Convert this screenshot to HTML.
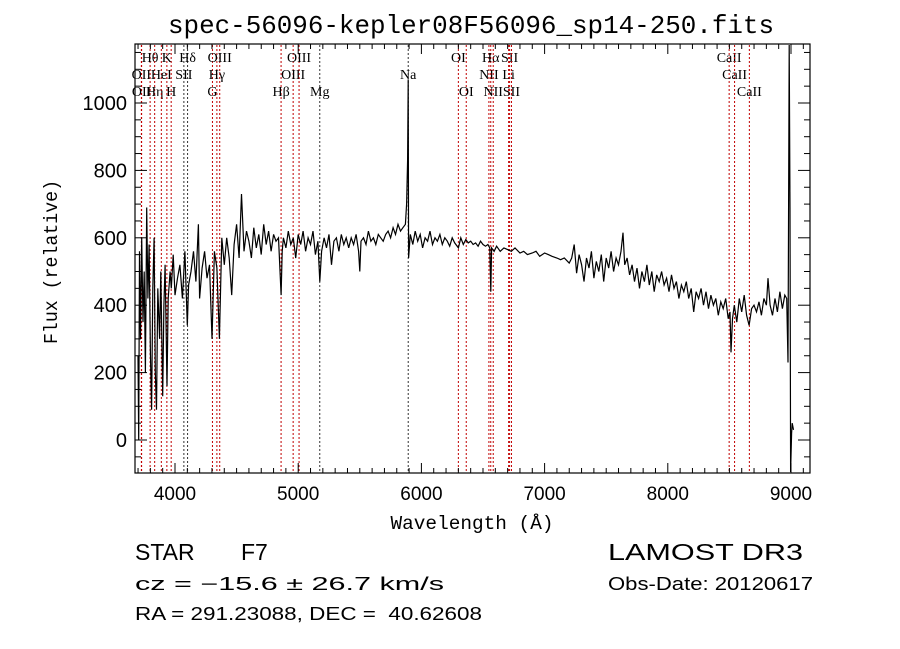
<!DOCTYPE html>
<html><head><meta charset="utf-8"><style>
html,body{margin:0;padding:0;background:#fff;}
svg{display:block;}
</style></head><body>
<svg id="chart" width="900" height="649" viewBox="0 0 900 649" xmlns="http://www.w3.org/2000/svg">
<rect width="900" height="649" fill="#fff"/>
<text x="471" y="33" font-family="Liberation Mono, monospace" font-size="26" text-anchor="middle" textLength="606" lengthAdjust="spacingAndGlyphs">spec-56096-kepler08F56096_sp14-250.fits</text>
<g id="lines"></g>
<g id="xticks"></g>
<g id="yticks"></g>
<path id="spec" fill="none" stroke="#000" stroke-width="1.2"/>
<rect x="135" y="44" width="675" height="429" fill="none" stroke="#000" stroke-width="1.2"/>
<text x="472" y="529" font-family="Liberation Mono, monospace" font-size="19" text-anchor="middle" textLength="163" lengthAdjust="spacingAndGlyphs">Wavelength (Å)</text>
<text transform="translate(57,262) rotate(-90)" font-family="Liberation Mono, monospace" font-size="19" text-anchor="middle" textLength="164" lengthAdjust="spacingAndGlyphs">Flux (relative)</text>
<text x="135" y="560" font-family="Liberation Sans, sans-serif" font-size="23">STAR</text>
<text x="241" y="560" font-family="Liberation Sans, sans-serif" font-size="23">F7</text>
<text x="608" y="560" font-family="Liberation Sans, sans-serif" font-size="23" textLength="195" lengthAdjust="spacingAndGlyphs">LAMOST DR3</text>
<text x="135" y="590" font-family="Liberation Sans, sans-serif" font-size="18" textLength="309" lengthAdjust="spacingAndGlyphs">cz = −15.6 ± 26.7 km/s</text>
<text x="608" y="590" font-family="Liberation Sans, sans-serif" font-size="18" textLength="205" lengthAdjust="spacingAndGlyphs">Obs-Date: 20120617</text>
<text x="135" y="620" font-family="Liberation Sans, sans-serif" font-size="18" textLength="347" lengthAdjust="spacingAndGlyphs" xml:space="preserve">RA = 291.23088, DEC =  40.62608</text>
</svg>
<script>
const wave = [3700,3705,3712,3720,3730,3740,3750,3760,3770,3780,3790,3800,3810,3820,3830,3840,3850,3860,3875,3885,3900,3910,3920,3935,3945,3960,3970,3985,4000,4020,4040,4060,4080,4100,4110,4130,4150,4170,4190,4200,4220,4240,4260,4280,4300,4320,4340,4360,4380,
4400,4420,4440,4460,4480,4500,4520,4540,4560,4580,4600,4620,4640,4660,4680,4700,4720,4740,4760,4780,4800,4820,4840,4861,4870,4880,4900,4920,4940,4960,4980,5000,5020,5040,5060,5080,5100,5120,5140,5160,5175,5190,5210,5230,5250,5270,5290,5310,5330,5350,5370,5390,5410,5430,5450,5470,5490,5500,5510,5530,5550,5570,5590,5610,5630,5650,5670,5690,5710,5730,5750,5770,5790,5810,5830,5850,5870,
5880,5888,5893,5896,5910,5930,5950,5970,5990,6010,6030,6050,6070,6090,6110,6130,6150,6170,6190,6210,6230,6250,6270,6300,6320,6340,6360,6380,6400,6420,6440,6460,6480,6500,6520,6540,6555,6563,6570,6590,6610,6640,6670,6700,6730,6760,6800,6830,6860,6900,6930,6960,7000,7030,7060,7100,7130,7160,
7200,7220,7240,7260,7280,7300,7320,7340,7360,7380,7400,7420,7440,7460,7480,7500,7520,7540,7560,7580,7600,7620,7636,7650,7670,7690,7710,7730,7750,7770,7790,7810,7830,7850,7870,7890,7910,7930,7950,7970,7990,8010,8030,8050,8070,8090,8110,8130,8150,8170,8190,8210,8230,8250,8270,8290,8310,8330,8350,8370,8390,8410,8430,8450,8470,8490,8505,8513,8525,8540,8560,8580,8600,8620,8640,8660,8680,8700,8720,8740,8760,8780,8800,8813,8830,8850,8870,8890,8910,8930,8950,8965,8976,8985,8992,8997,9005,9010,9020,9030];
const flux = [250,0,560,300,600,350,500,200,690,420,580,260,90,450,600,200,90,450,300,500,130,400,520,160,420,500,450,550,430,480,520,420,560,340,460,500,560,470,640,420,510,560,480,520,300,560,510,300,600,
520,600,540,430,580,640,540,730,560,620,590,540,630,570,610,550,640,580,620,560,610,590,600,430,560,600,570,620,580,600,540,610,580,620,560,600,580,620,550,590,470,560,600,570,610,520,590,600,560,610,580,600,570,600,580,610,560,500,590,600,580,620,590,600,580,610,600,590,610,620,600,630,610,640,620,630,640,
700,830,1070,540,610,580,620,590,610,570,600,590,620,580,600,590,610,580,600,590,575,600,585,570,600,580,595,585,590,580,585,575,590,580,575,580,570,440,570,560,575,560,570,565,560,570,555,560,550,555,560,545,555,550,545,540,535,540,
525,540,580,495,550,520,470,540,510,560,480,530,500,550,470,540,510,560,500,540,520,560,615,520,540,490,520,470,510,450,500,470,520,460,500,440,490,470,500,460,480,440,490,450,470,420,460,440,470,420,450,380,440,420,450,400,440,390,430,400,420,370,410,390,420,360,380,260,360,400,350,420,380,430,370,340,390,400,380,410,370,420,400,480,400,370,420,380,440,390,430,420,230,1175,690,-98,20,50,30];

const X0 = 175, XK = 0.1232;
function xs(l){ return X0 + (l - 4000) * XK; }
const Y0 = 440, YK = 0.337;
function ys(f){ return Y0 - f * YK; }

const xTickVals = [4000,5000,6000,7000,8000,9000];
const yTickVals = [0,200,400,600,800,1000];

const lineWaves = [3727,3798,3729,3835,3889,3934,3969,4072,4102,4304,4340,4363,4861,4959,5007,5175,5893,6300,6364,6548,6563,6583,6708,6716,6731,8498,8542,8662];
const lineNames = ["OII","Hθ","OII","Hη","HeI","K","H","SII","Hδ","G","Hγ","OIII","Hβ","OIII","OIII","Mg","Na","OI","OI","NII","Hα","NII","Li","SII","SII","CaII","CaII","CaII"];
const lineRows = [2,1,3,3,2,1,3,2,1,3,2,1,3,2,1,3,2,1,3,2,1,3,2,1,3,1,2,3];

const NS = "http://www.w3.org/2000/svg";
function mk(tag, attrs, parent){
  const e = document.createElementNS(NS, tag);
  for (const k in attrs) e.setAttribute(k, attrs[k]);
  parent.appendChild(e);
  return e;
}

const lg = document.getElementById('lines');
const rowY = {1:62, 2:79, 3:96};
lineWaves.forEach((w, i) => {
  const x = xs(w);
  const dark = (lineNames[i] === "Na" || lineNames[i] === "Mg" || lineNames[i] === "Hδ" || (lineNames[i] === "SII" && w < 5000));
  const ln = mk('line', {x1:x, x2:x, y1:45, y2:472, stroke: dark ? '#333' : '#c00000', 'stroke-width':1, 'stroke-dasharray':'2,2'}, lg);
  
  
  const t = mk('text', {x:x, y:rowY[lineRows[i]], 'font-family':'Liberation Serif, DejaVu Serif, serif', 'font-size':14, 'text-anchor':'middle'}, lg);
  t.textContent = lineNames[i];
  
  
});

const xg = document.getElementById('xticks');
for (let v = 3700; v <= 9150; v += 100) {
  const x = xs(v);
  if (x < 135 || x > 810) continue;
  const major = v % 1000 === 0;
  const len = major ? 10 : 5;
  const t1 = mk('line', {x1:x, x2:x, y1:473, y2:473 - len, stroke:'#000'}, xg);
  
  
  const t2 = mk('line', {x1:x, x2:x, y1:44, y2:44 + len, stroke:'#000'}, xg);
  
  
}
xTickVals.forEach(v => {
  const t = mk('text', {x:xs(v), y:500, 'font-family':'Liberation Sans, sans-serif', 'font-size':19, 'text-anchor':'middle'}, xg);
  t.textContent = v;
  
  
});

const yg = document.getElementById('yticks');
for (let v = -50; v <= 1150; v += 50) {
  const y = ys(v);
  if (y < 44 || y > 473) continue;
  const major = v % 200 === 0;
  const len = major ? 12 : 6;
  const t1 = mk('line', {x1:135, x2:135 + len, y1:y, y2:y, stroke:'#000'}, yg);
  
  
  const t2 = mk('line', {x1:810, x2:810 - len, y1:y, y2:y, stroke:'#000'}, yg);
  
  
}
yTickVals.forEach(v => {
  const t = mk('text', {x:127, y:ys(v) + 7, 'font-family':'Liberation Sans, sans-serif', 'font-size':20, 'text-anchor':'end'}, yg);
  t.textContent = v;
  
  
});

const n = Math.min(wave.length, flux.length);
let d = '';
for (let i = 0; i < n; i++) {
  const y = Math.max(45, Math.min(472, ys(flux[i])));
  d += (i ? 'L' : 'M') + xs(wave[i]).toFixed(1) + ' ' + y.toFixed(1);
}
document.getElementById('spec').setAttribute('d', d);
</script>
</body></html>
